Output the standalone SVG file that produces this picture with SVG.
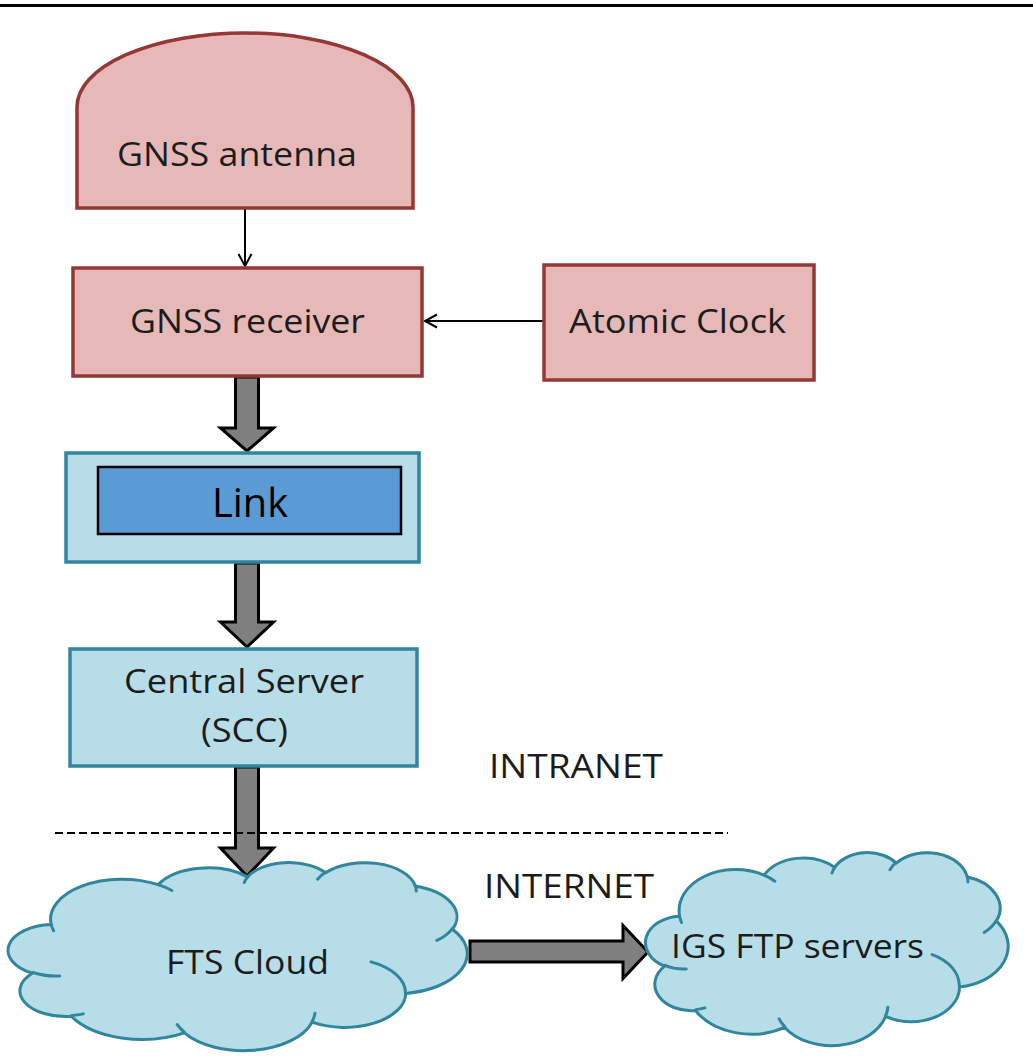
<svg xmlns="http://www.w3.org/2000/svg" width="1033" height="1061" viewBox="0 0 1033 1061">
  <style>
    .lbl { font-family: "Open Sans", "Noto Sans", "Liberation Sans", sans-serif; font-size: 33px; fill: #1c1c1c; text-anchor: middle; }
    .pink { fill: #e6b9b8; stroke: #953735; stroke-width: 3.5; }
    .aqua { fill: #b7dee8; stroke: #31859c; stroke-width: 3.5; }
    .cloud { fill: #b7dee8; stroke: #31859c; stroke-width: 3; stroke-linejoin: round; }
    .cloud-inner { fill: none; stroke: #31859c; stroke-width: 3; stroke-linecap: round; }
    .thin { fill: none; stroke: #000; stroke-width: 2; }
    .block { fill: #7f7f7f; stroke: #000; stroke-width: 3; stroke-linejoin: miter; }
  </style>
  <defs>
    <marker id="open-head" viewBox="-14 -8 16 16" refX="0" refY="0" markerWidth="16" markerHeight="16" markerUnits="userSpaceOnUse" orient="auto">
      <path d="M-12,-6.5 L0,0 L-12,6.5" fill="none" stroke="#000" stroke-width="2"/>
    </marker>
    <!-- standard cloud outline in a 43200 x 43200 box; strokes stay in screen pixels -->
    <path id="cloud-outline" vector-effect="non-scaling-stroke" d="M3900,14370 A6753,9190 0 0 1 14005,5201 A5333,7267 0 0 1 22456,3432 A4365,5945 0 0 1 29834,2481 A4857,6595 0 0 1 38319,5577 A5333,7273 0 0 1 41819,15460 A6775,9220 0 0 1 37404,30202 A5785,7867 0 0 1 28555,36812 A6752,9215 0 0 1 16481,39265 A7720,10543 0 0 1 5804,35470 A4360,5918 0 0 1 2113,25548 A4345,5945 0 0 1 3900,14370 Z"/>
    <path id="cloud-folds" vector-effect="non-scaling-stroke" d="M4693,26177 A4345,5945 0 0 1 2160,25380 M6928,34899 A4360,5918 0 0 1 5820,35281 M16478,39090 A6752,9215 0 0 1 15809,37348 M28827,34751 A6752,9215 0 0 1 28560,36660 M34129,22954 A5785,7867 0 0 1 37381,30090 M41798,15354 A5333,7273 0 0 1 40350,18030 M38324,5426 A4857,6595 0 0 1 38401,6690 M29078,3952 A4857,6595 0 0 1 29820,2339 M22141,4720 A4365,5945 0 0 1 22500,3330 M14000,5192 A6753,9190 0 0 1 15301,6541 M4127,15789 A6753,9190 0 0 1 3900,14371"/>
  </defs>

  <rect x="0" y="0" width="1033" height="1061" fill="#ffffff"/>
  <!-- top rule -->
  <rect x="0" y="4" width="1033" height="3" fill="#000"/>

  <!-- connectors -->
  <g id="connectors">
    <line class="thin" x1="245" y1="209" x2="245" y2="266" marker-end="url(#open-head)"/>
    <line class="thin" x1="543" y1="321" x2="425" y2="321" marker-end="url(#open-head)"/>
    <path class="block" d="M235.5,377 H258.5 V428 H273.5 L247,451 L220.5,428 H235.5 Z"/>
    <path class="block" d="M235.5,563 H258.5 V622 H273.5 L247,647 L220.5,622 H235.5 Z"/>
    <path class="block" d="M235.5,767 H258.5 V848 H273.5 L247,876 L220.5,848 H235.5 Z"/>
    <path class="block" d="M470,941 H623 V925.5 L648,952 L623,978.5 V962 H470 Z"/>
  </g>

  <!-- network boundary -->
  <g id="boundary">
    <line x1="55" y1="833" x2="728" y2="833" stroke="#000" stroke-width="2" stroke-dasharray="8 4"/>
    <text class="lbl" x="576" y="778" textLength="174" lengthAdjust="spacingAndGlyphs">INTRANET</text>
    <text class="lbl" x="569" y="898" textLength="170" lengthAdjust="spacingAndGlyphs">INTERNET</text>
  </g>

  <g id="gnss-antenna">
    <path class="pink" d="M77,208 V107 A168,74 0 0 1 413,107 V208 Z"/>
    <text class="lbl" x="237" y="166" textLength="240" lengthAdjust="spacingAndGlyphs">GNSS antenna</text>
  </g>

  <g id="gnss-receiver">
    <rect class="pink" x="73" y="268" width="349" height="108"/>
    <text class="lbl" x="247.5" y="333" textLength="235" lengthAdjust="spacingAndGlyphs">GNSS receiver</text>
  </g>

  <g id="atomic-clock">
    <rect class="pink" x="544" y="265" width="270" height="115"/>
    <text class="lbl" x="677.5" y="333" textLength="217" lengthAdjust="spacingAndGlyphs">Atomic Clock</text>
  </g>

  <g id="link">
    <rect class="aqua" x="66" y="453" width="353" height="109"/>
    <rect x="98" y="467" width="303" height="67" fill="#5b9bd5" stroke="#000" stroke-width="2.5"/>
    <text class="lbl" x="250" y="517" style="font-size:41px;fill:#000" textLength="76" lengthAdjust="spacingAndGlyphs">Link</text>
  </g>

  <g id="central-server">
    <rect class="aqua" x="70" y="649" width="347" height="117"/>
    <text class="lbl" x="244" y="693" textLength="240" lengthAdjust="spacingAndGlyphs">Central Server</text>
    <text class="lbl" x="244.5" y="742" textLength="87" lengthAdjust="spacingAndGlyphs">(SCC)</text>
  </g>

  <g id="fts-cloud">
    <g transform="translate(10,862) scale(0.010579,0.0043519)">
      <use href="#cloud-outline" class="cloud"/>
      <use href="#cloud-folds" class="cloud-inner"/>
    </g>
    <text class="lbl" x="247.5" y="974" textLength="163" lengthAdjust="spacingAndGlyphs">FTS Cloud</text>
  </g>

  <g id="igs-ftp">
    <g transform="translate(647,852) scale(0.0083565,0.0044676)">
      <use href="#cloud-outline" class="cloud"/>
      <use href="#cloud-folds" class="cloud-inner"/>
    </g>
    <text class="lbl" x="797.5" y="958" textLength="253" lengthAdjust="spacingAndGlyphs">IGS FTP servers</text>
  </g>
</svg>
